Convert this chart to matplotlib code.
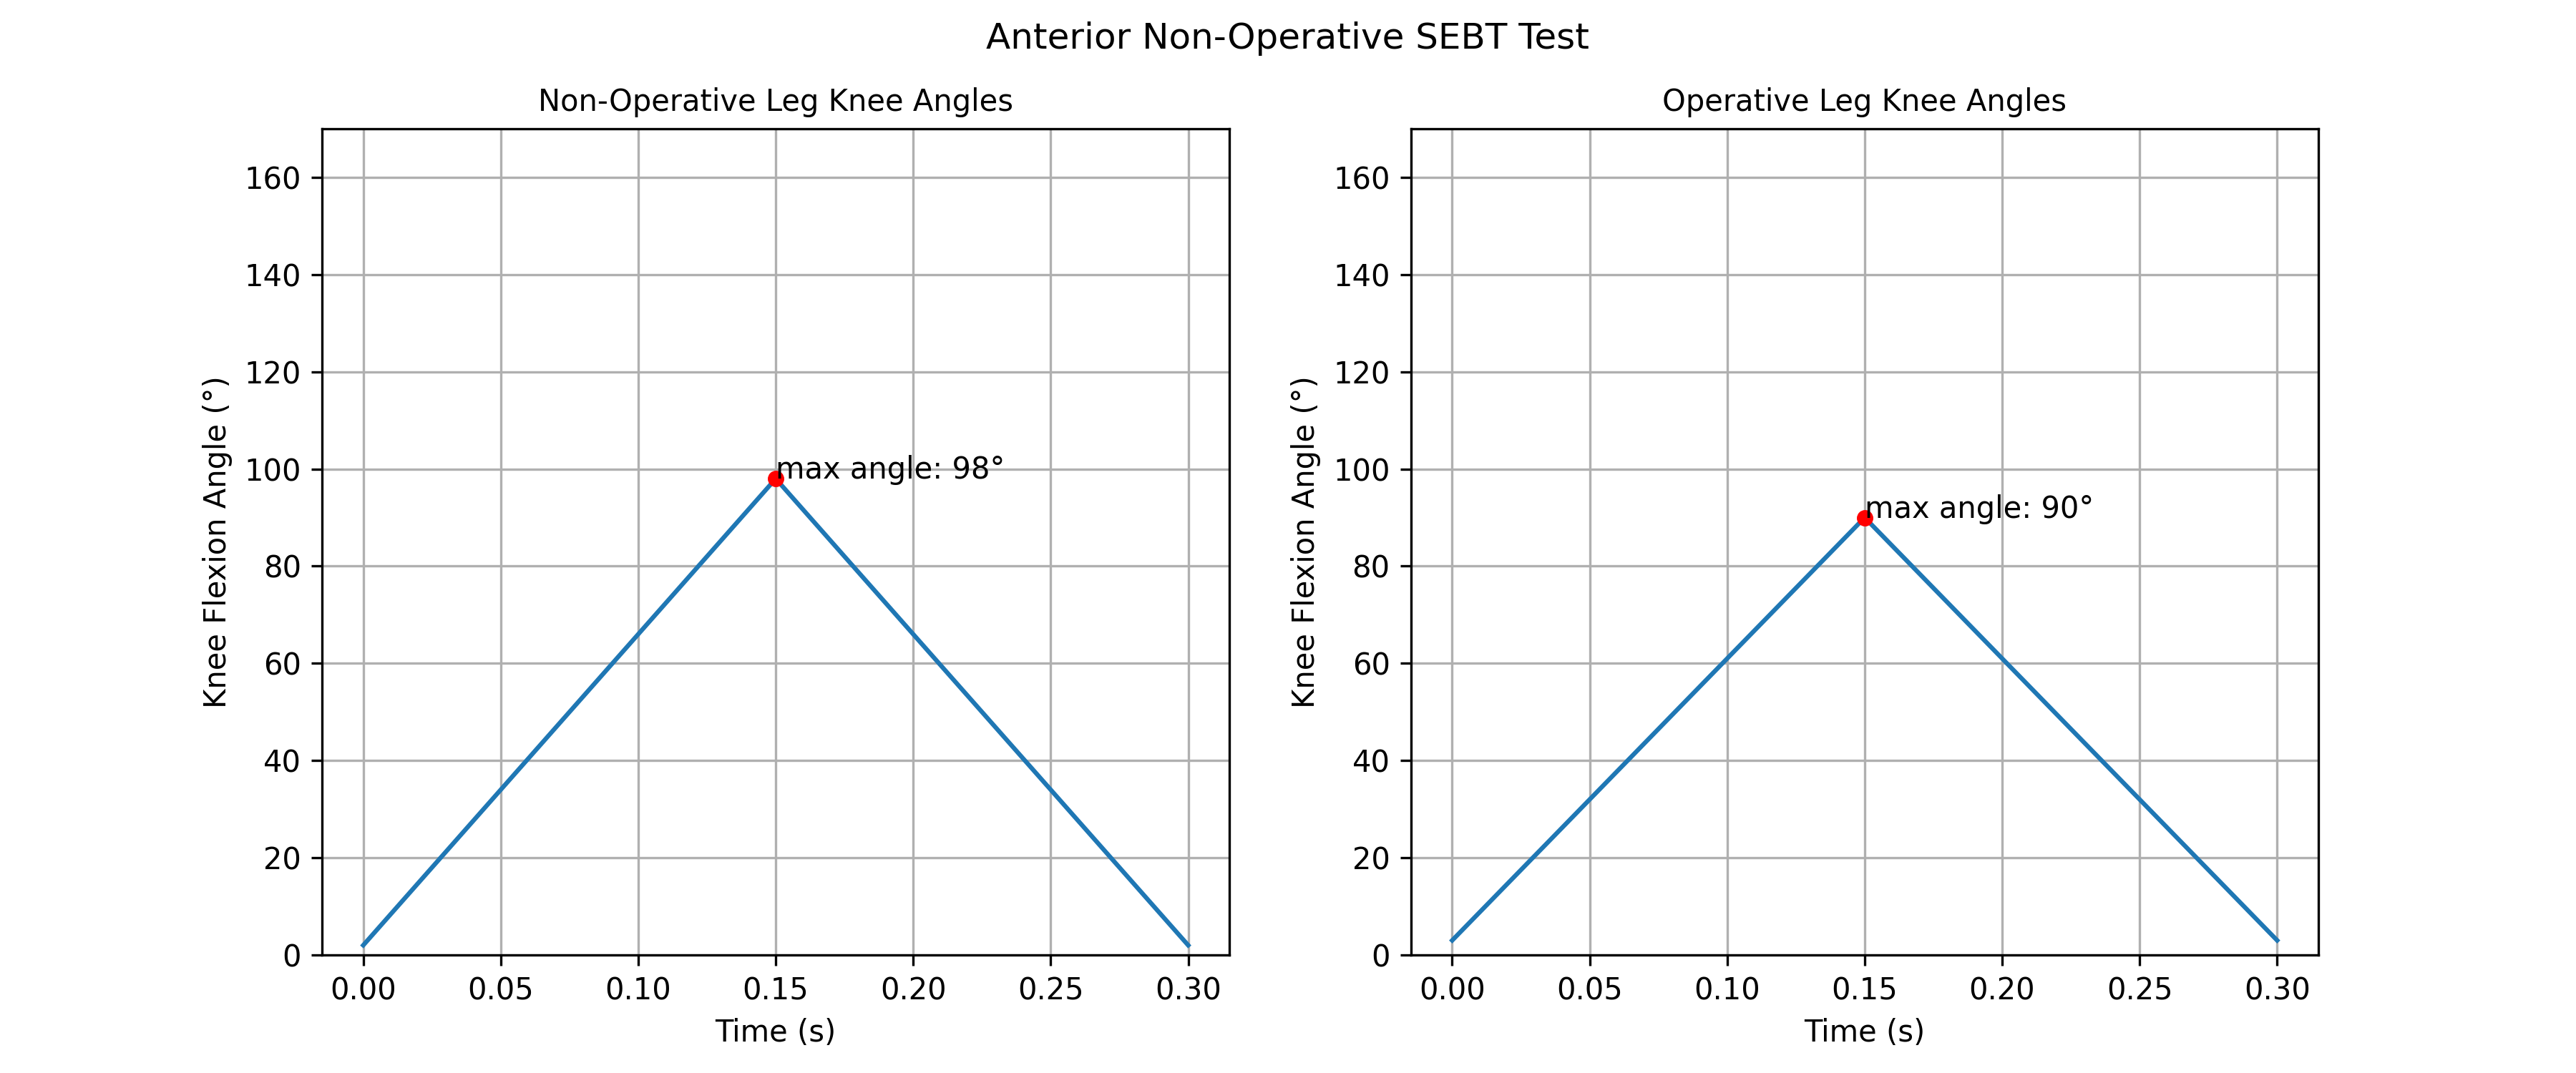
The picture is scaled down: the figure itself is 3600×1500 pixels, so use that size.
import matplotlib
matplotlib.use("Agg")
import matplotlib.pyplot as plt

time_s = [0.0, 0.15, 0.30]
non_op_angles = [2, 98, 2]
op_angles = [3, 90, 3]
titles = ["Non-Operative Leg Knee Angles", "Operative Leg Knee Angles"]
suptitle = "Anterior Non-Operative SEBT Test"

fig, axes = plt.subplots(1, 2, figsize=(12, 5), dpi=300)
fig.suptitle(suptitle, fontsize=12)

for ax, angles, title in zip(axes, [non_op_angles, op_angles], titles):
    ax.plot(time_s, angles, color="#1f77b4", linewidth=1.5)
    i = angles.index(max(angles))
    ax.plot(time_s[i], angles[i], "o", color="red", markersize=4.5)
    ax.text(time_s[i], angles[i], f"max angle: {angles[i]}°", fontsize=10)
    ax.set_title(title, fontsize=10)
    ax.set_xlabel("Time (s)")
    ax.set_ylabel("Knee Flexion Angle (°)")
    ax.set_ylim(0, 170)
    ax.set_xticks([0.0, 0.05, 0.10, 0.15, 0.20, 0.25, 0.30])
    ax.grid(True)

fig.savefig("out.png", dpi=300)
